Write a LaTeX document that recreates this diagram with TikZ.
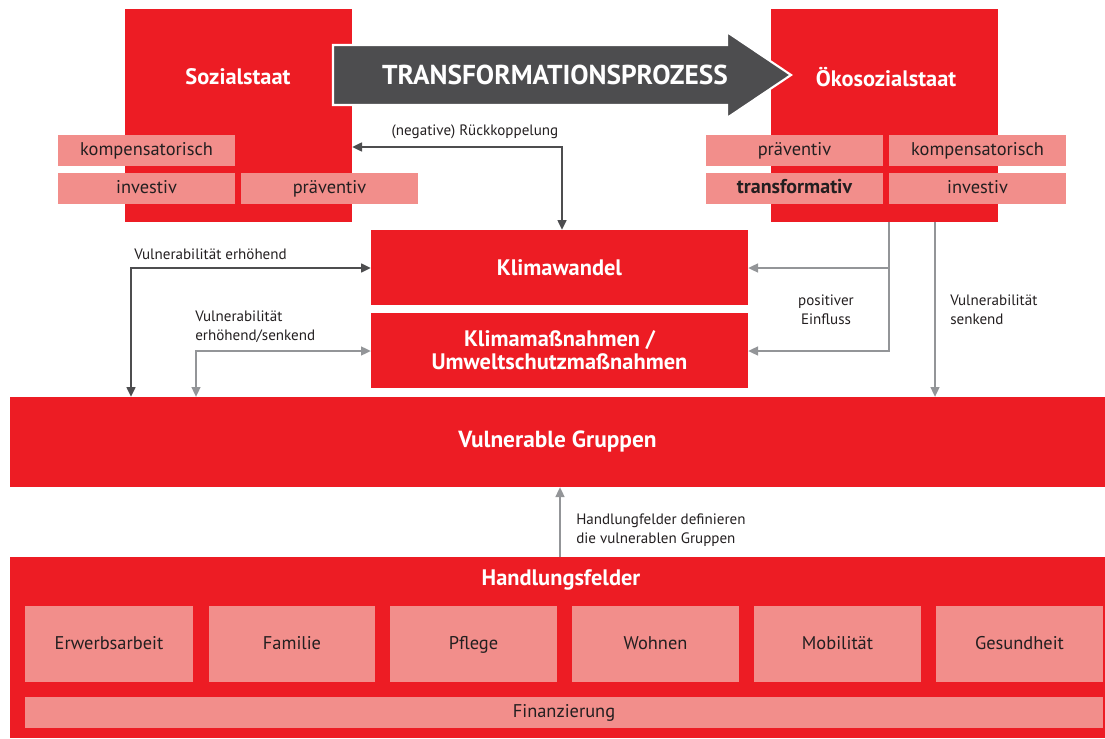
\documentclass[tikz,border=0pt]{standalone}
\usepackage{fontspec}
\setmainfont{PT Sans}
\usetikzlibrary{arrows.meta,calc}
\definecolor{ared}{HTML}{ED1C24}
\definecolor{apink}{HTML}{F28E8B}
\definecolor{adark}{HTML}{4D4D4F}
\definecolor{agray}{HTML}{939598}
\definecolor{atext}{HTML}{231F20}
\tikzset{
  wh/.style 2 args={minimum width=#1*0.75pt,minimum height=#2*0.75pt},
  redbox/.style={fill=ared,draw=none,inner sep=0pt,outer sep=0pt,text=white,font=\bfseries\fontsize{16.8}{18}\selectfont,align=center},
  pinkbox/.style={fill=apink,draw=none,inner sep=0pt,outer sep=0pt,text=atext,font=\fontsize{13.8}{15}\selectfont,text height=0.8em,text depth=0em},
  fieldbox/.style={fill=apink,draw=none,inner sep=0pt,outer sep=0pt,text=atext,font=\fontsize{13.8}{15}\selectfont,text height=0.8em,text depth=0em},
  titl/.style={text=white,font=\bfseries\fontsize{16.8}{18}\selectfont,inner sep=0pt},
  lbl/.style={text=atext,font=\fontsize{11.3}{14.2}\selectfont,inner sep=0pt,align=left},
  darr/.style={draw=adark,line width=1.85pt,-{Triangle[length=7.5pt,width=6.5pt]}},
  garr/.style={draw=agray,line width=1.7pt,-{Triangle[length=7.5pt,width=6.5pt]}},
}
\begin{document}
\begin{tikzpicture}[x=0.75pt,y=-0.75pt]
\useasboundingbox (0,0) rectangle (1105,738);
% top state boxes
\node[redbox,wh={227}{213}] (sozial) at (238.5,115.5) {};
\node[redbox,wh={227}{213}] (oeko) at (884.5,115.5) {};
\node[titl] (sozialt) at (238,77) {Sozialstaat};
\node[titl] (oekot) at (886,77) {Ökosozialstaat};
% big arrow
\path[fill=adark,draw=white,line width=1.6pt,line join=miter]
  (333,45) -- (727,45) -- (727,32) -- (791,75) -- (727,118) -- (727,105) -- (333,105) -- cycle;
\node[text=white,font=\bfseries\fontsize{20.5}{24}\selectfont,inner sep=0pt] (tp) at (555,75) {TRANSFORMATIONSPROZESS};
% left attribute boxes
\node[pinkbox,wh={177}{31}] (lk) at (146.5,150.5) {kompensatorisch};
\node[pinkbox,wh={177}{31}] (li) at (146.5,188.5) {investiv};
\node[pinkbox,wh={177}{31}] (lp) at (329.5,188.5) {präventiv};
% right attribute boxes
\node[pinkbox,wh={177}{31}] (rp) at (794.5,150.5) {präventiv};
\node[pinkbox,wh={177}{31}] (rk) at (977.5,150.5) {kompensatorisch};
\node[pinkbox,wh={177}{31},font=\bfseries\fontsize{15}{16}\selectfont] (rt) at (794.5,188.5) {transformativ};
\node[pinkbox,wh={177}{31}] (ri) at (977.5,188.5) {investiv};
% middle boxes
\node[redbox,wh={377}{75}] (kw) at (559.5,267.5) {Klimawandel};
\node[redbox,wh={377}{75},font=\bfseries\fontsize{16.8}{17.5}\selectfont] (km) at (559.5,350.5) {Klimamaßnahmen /\\Umweltschutzmaßnahmen};
\node[redbox,wh={1095}{90},font=\bfseries\fontsize{17.5}{18}\selectfont,text height=0.8em,text depth=0em] (vg) at (557.5,442) {Vulnerable Gruppen};
% Handlungsfelder
\node[redbox,wh={1095}{181}] (hf) at (557.5,647.5) {};
\node[titl] (hft) at (561,580) {Handlungsfelder};
\node[fieldbox,wh={168}{76}] (f1) at (109,644) {Erwerbsarbeit};
\node[fieldbox,wh={166}{76}] (f2) at (292,644) {Familie};
\node[fieldbox,wh={167}{76}] (f3) at (473.5,644) {Pflege};
\node[fieldbox,wh={167}{76}] (f4) at (655.5,644) {Wohnen};
\node[fieldbox,wh={167}{76}] (f5) at (837.5,644) {Mobilität};
\node[fieldbox,wh={167}{76}] (f6) at (1019.5,644) {Gesundheit};
\node[fieldbox,wh={1078}{31}] (fin) at (564,712.5) {Finanzierung};
% connectors
\coordinate (fbc) at (562,147);
\draw[darr,{Triangle[length=7.5pt,width=6.5pt]}-{Triangle[length=7.5pt,width=6.5pt]}] (sozial.east |- fbc) -- (fbc) -- (fbc |- kw.north);
\coordinate (lc) at (131,268);
\draw[darr,{Triangle[length=7.5pt,width=6.5pt]}-{Triangle[length=7.5pt,width=6.5pt]}] (lc |- vg.north) -- (lc) -- (lc -| kw.west);
\coordinate (gc) at (196,351);
\draw[garr,{Triangle[length=7.5pt,width=6.5pt]}-{Triangle[length=7.5pt,width=6.5pt]}] (gc |- vg.north) -- (gc) -- (gc -| km.west);
\coordinate (rc1) at (889,268);
\coordinate (rc2) at (889,351);
\draw[garr] (rc1 |- oeko.south) -- (rc2) -- (rc2 -| km.east);
\draw[garr] (rc1) -- (rc1 -| kw.east);
\coordinate (rc3) at (935,300);
\draw[garr] (rc3 |- oeko.south) -- (rc3 |- vg.north);
\coordinate (uc) at (560,520);
\draw[garr] (uc |- hf.north) -- (uc |- vg.south);
% labels
\node[lbl] (l1) at (475,132) {(negative) Rückkoppelung};
\node[lbl,anchor=west] (l2) at (134,254) {Vulnerabilität erhöhend};
\node[lbl,anchor=west] (l3) at (195,327) {Vulnerabilität\\erhöhend/senkend};
\node[lbl,align=center] (l4) at (826,310) {positiver\\Einfluss};
\node[lbl,anchor=west] (l5) at (950,310) {Vulnerabilität\\senkend};
\node[lbl,anchor=west] (l6) at (576,530) {Handlungfelder definieren\\die vulnerablen Gruppen};
\end{tikzpicture}
\end{document}
